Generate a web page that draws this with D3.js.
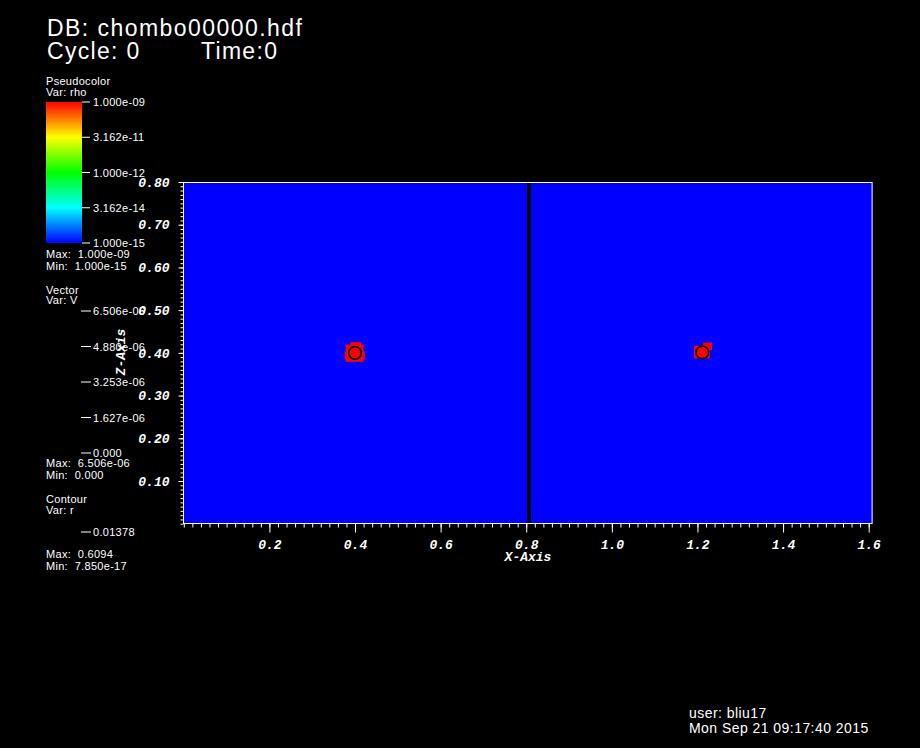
<!DOCTYPE html>
<html><head><meta charset="utf-8">
<script src="https://cdn.jsdelivr.net/npm/d3@7"></script>
<style>
html,body{margin:0;padding:0;background:#000;}
svg{display:block;}
text{white-space:pre;}
</style></head>
<body>
<script>
// ---- data ----
const titleLines = ["DB: chombo00000.hdf"];
const cycleText = "Cycle: 0";
const timeText = "Time:0";
const userLines = ["user: bliu17", "Mon Sep 21 09:17:40 2015"];

const xDomain = [0, 1.608];
const yDomain = [0, 0.8];
const xTickValues = [0.2, 0.4, 0.6, 0.8, 1.0, 1.2, 1.4, 1.6];
const xTickLabels = ["0.2", "0.4", "0.6", "0.8", "1.0", "1.2", "1.4", "1.6"];
const yTickValues = [0.1, 0.2, 0.3, 0.4, 0.5, 0.6, 0.7, 0.8];
const yTickLabels = ["0.10", "0.20", "0.30", "0.40", "0.50", "0.60", "0.70", "0.80"];
const xMinorStep = 0.02;
const yMinorStep = 0.01;

// patch gap (black stripe)
const gapX = [0.802, 0.811];

// red (rho = max) cells around each bubble, [x0, x1, y0, y1]
const redCells = [
  [0.378, 0.420, 0.379, 0.419],
  [0.376, 0.423, 0.385, 0.403],
  [0.389, 0.415, 0.415, 0.425],
  [1.192, 1.229, 0.387, 0.417],
  [1.213, 1.234, 0.406, 0.424]
];
// contour r = 0.01378 around bubble centers
const contourCenters = [[0.400, 0.400], [1.2115, 0.401]];
const contourLevel = 0.01378;

const pcTitle = ["Pseudocolor", "Var: rho"];
const pcTickLabels = ["1.000e-09", "3.162e-11", "1.000e-12", "3.162e-14", "1.000e-15"];
const pcMinMax = ["Max:  1.000e-09", "Min:  1.000e-15"];
const vecTitle = ["Vector", "Var: V"];
const vecTickLabels = ["6.506e-06", "4.880e-06", "3.253e-06", "1.627e-06", "0.000"];
const vecMinMax = ["Max:  6.506e-06", "Min:  0.000"];
const conTitle = ["Contour", "Var: r"];
const conTickLabels = ["0.01378"];
const conMinMax = ["Max:  0.6094", "Min:  7.850e-17"];
const colorStops = ["#0000ff", "#00ffff", "#00ff00", "#ffff00", "#ff0000"];

// ---- drawing ----
const W = 920, H = 748;
const svg = d3.select("body").append("svg").attr("width", W).attr("height", H)
  .style("background", "#000");
svg.append("rect").attr("width", W).attr("height", H).attr("fill", "#000");

const sans = "'Liberation Sans', Arial, sans-serif";
const mono = "'Liberation Mono', 'Courier New', monospace";

const x = d3.scaleLinear().domain(xDomain).range([183.8, 872.1]);
const y = d3.scaleLinear().domain(yDomain).range([523.7, 182]);

// titles
svg.append("text").attr("x", 47).attr("y", 36).text(titleLines[0])
  .attr("fill", "#fff").attr("font-family", sans).attr("font-size", 23).attr("letter-spacing", 1.45);
svg.append("text").attr("x", 47).attr("y", 59).text(cycleText)
  .attr("fill", "#fff").attr("font-family", sans).attr("font-size", 23).attr("letter-spacing", 1.3);
svg.append("text").attr("x", 201).attr("y", 59).text(timeText)
  .attr("fill", "#fff").attr("font-family", sans).attr("font-size", 23).attr("letter-spacing", 1.3);

userLines.forEach((t, i) => {
  svg.append("text").attr("x", 689).attr("y", 718 + i * 15).text(t)
    .attr("fill", "#fff").attr("font-family", sans).attr("font-size", 14).attr("letter-spacing", 0.45);
});

// plot
const plot = svg.append("g");
plot.append("rect").attr("x", x(xDomain[0])).attr("y", y(yDomain[1]))
  .attr("width", x(xDomain[1]) - x(xDomain[0])).attr("height", y(yDomain[0]) - y(yDomain[1]))
  .attr("fill", "#0000ff");
plot.append("rect").attr("x", x(gapX[0])).attr("y", y(yDomain[1]))
  .attr("width", x(gapX[1]) - x(gapX[0])).attr("height", y(yDomain[0]) - y(yDomain[1]))
  .attr("fill", "#000");
plot.selectAll("rect.red").data(redCells).join("rect").attr("class", "red")
  .attr("x", d => x(d[0])).attr("y", d => y(d[3]))
  .attr("width", d => x(d[1]) - x(d[0])).attr("height", d => y(d[2]) - y(d[3]))
  .attr("fill", "#ff0000");
plot.selectAll("circle.con").data(contourCenters).join("circle").attr("class", "con")
  .attr("cx", d => x(d[0])).attr("cy", d => y(d[1]))
  .attr("r", x(contourLevel) - x(0) + 0.4)
  .attr("fill", "#ff0000").attr("stroke", "#000").attr("stroke-width", 1.8);

// border
plot.append("rect").attr("x", 183.5).attr("y", 182.5)
  .attr("width", x(xDomain[1]) - 183.5).attr("height", 523.5 - 182.5)
  .attr("fill", "none").attr("stroke", "#fff").attr("stroke-width", 1);

// axes
const xMinor = d3.range(0, 1.6 + 1e-9, xMinorStep);
const yMinor = d3.range(0, 0.8 + 1e-9, yMinorStep);
const gxMinor = svg.append("g").attr("transform", `translate(0,${523.5})`)
  .call(d3.axisBottom(x).tickValues(xMinor).tickSize(4).tickFormat(""));
const gx = svg.append("g").attr("transform", `translate(0,${523.5})`)
  .call(d3.axisBottom(x).tickValues(xTickValues).tickSize(9)
    .tickFormat((d, i) => xTickLabels[i]).tickPadding(7));
const gyMinor = svg.append("g").attr("transform", `translate(${183.5},0)`)
  .call(d3.axisLeft(y).tickValues(yMinor).tickSize(3).tickFormat(""));
const gy = svg.append("g").attr("transform", `translate(${183.5},0)`)
  .call(d3.axisLeft(y).tickValues(yTickValues).tickSize(5)
    .tickFormat((d, i) => yTickLabels[i]).tickPadding(9));
[gxMinor, gx, gyMinor, gy].forEach(g => {
  g.selectAll("path.domain").remove();
  g.selectAll("line").attr("stroke", "#fff").attr("stroke-width", 1);
  g.selectAll("text").attr("fill", "#fff").attr("font-family", mono)
    .attr("font-weight", "bold").attr("font-style", "italic").attr("font-size", 13);
});
gx.selectAll("text").attr("dy", "0.71em");
// axis lines
svg.append("line").attr("x1", 183.5).attr("x2", x(xDomain[1])).attr("y1", 523.5).attr("y2", 523.5).attr("stroke", "#fff");
svg.append("line").attr("x1", 183.5).attr("x2", 183.5).attr("y1", 182).attr("y2", 524).attr("stroke", "#fff");

svg.append("text").attr("x", 528).attr("y", 561).attr("text-anchor", "middle").text("X-Axis")
  .attr("fill", "#fff").attr("font-family", mono).attr("font-weight", "bold")
  .attr("font-style", "italic").attr("font-size", 13);
svg.append("text").attr("transform", "translate(125,352) rotate(-90)").attr("text-anchor", "middle").text("Z-Axis")
  .attr("fill", "#fff").attr("font-family", mono).attr("font-weight", "bold")
  .attr("font-style", "italic").attr("font-size", 13);

// legends
const lf = 11;
function legText(tx, ty, t) {
  svg.append("text").attr("x", tx).attr("y", ty).text(t).attr("fill", "#fff")
    .attr("font-family", sans).attr("font-size", lf).attr("letter-spacing", 0.3)
    .attr("xml:space", "preserve");
}
// pseudocolor
legText(46, 85, pcTitle[0]);
legText(46, 96, pcTitle[1]);
const defs = svg.append("defs");
const grad = defs.append("linearGradient").attr("id", "cb").attr("x1", 0).attr("x2", 0).attr("y1", 1).attr("y2", 0);
colorStops.forEach((c, i) => grad.append("stop").attr("offset", i / (colorStops.length - 1)).attr("stop-color", c));
const cbTop = 102, cbBot = 243;
svg.append("rect").attr("x", 46).attr("y", cbTop).attr("width", 36).attr("height", cbBot - cbTop).attr("fill", "url(#cb)");
const cbScale = d3.scaleLinear().domain([0, pcTickLabels.length - 1]).range([cbTop, cbBot]);
pcTickLabels.forEach((t, i) => {
  const ty = cbScale(i);
  svg.append("line").attr("x1", 82).attr("x2", 90).attr("y1", ty).attr("y2", ty).attr("stroke", "#fff");
  legText(93, ty + 4, t);
});
legText(46, 258, pcMinMax[0]);
legText(46, 270, pcMinMax[1]);
// vector
legText(46, 294, vecTitle[0]);
legText(46, 304, vecTitle[1]);
const vScale = d3.scaleLinear().domain([0, vecTickLabels.length - 1]).range([311, 453]);
vecTickLabels.forEach((t, i) => {
  const ty = vScale(i);
  svg.append("line").attr("x1", 81).attr("x2", 91).attr("y1", ty).attr("y2", ty).attr("stroke", "#fff");
  legText(93, ty + 4, t);
});
legText(46, 467, vecMinMax[0]);
legText(46, 479, vecMinMax[1]);
// contour
legText(46, 503, conTitle[0]);
legText(46, 514, conTitle[1]);
conTickLabels.forEach((t) => {
  svg.append("line").attr("x1", 81).attr("x2", 91).attr("y1", 532).attr("y2", 532).attr("stroke", "#fff");
  legText(93, 536, t);
});
legText(46, 558, conMinMax[0]);
legText(46, 570, conMinMax[1]);
</script>
</body></html>
